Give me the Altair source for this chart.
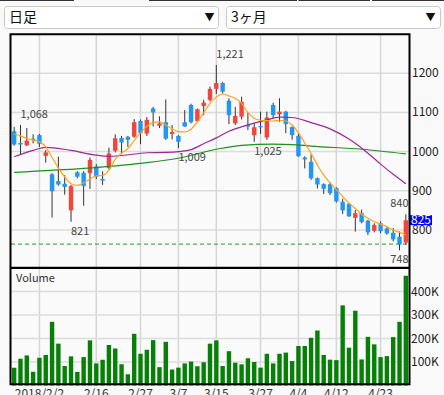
import altair as alt
import pandas as pd

# ---------------- data ----------------
dates = ["1/29", "1/30", "1/31", "2/1", "2/2", "2/5", "2/6", "2/7", "2/8", "2/9",
         "2/13", "2/14", "2/15", "2/16", "2/19", "2/20", "2/21", "2/22", "2/23", "2/26",
         "2/27", "2/28", "3/1", "3/2", "3/5", "3/6", "3/7", "3/8", "3/9", "3/12",
         "3/13", "3/14", "3/15", "3/16", "3/19", "3/20", "3/22", "3/23", "3/26", "3/27",
         "3/28", "3/29", "3/30", "4/2", "4/3", "4/4", "4/5", "4/6", "4/9", "4/10",
         "4/11", "4/12", "4/13", "4/16", "4/17", "4/18", "4/19", "4/20", "4/23", "4/24",
         "4/25", "4/26", "4/27"]

opens = [1052, 1022, 1016, 1033, 1042, 989, 942, 925, 918, 850,
         947, 946, 945, 962, 930, 958, 1002, 1035, 1038, 1038,
         1078, 1046, 1110, 1066, 1075, 1045, 1040, 1075, 1119, 1078,
         1116, 1132, 1160, 1175, 1130, 1072, 1089, 1068, 1042, 1065,
         1036, 1119, 1095, 1102, 1063, 1040, 985, 974, 932, 917,
         917, 907, 872, 867, 831, 843, 824, 798, 817, 804,
         793, 783, 768]
highs = [1063, 1068, 1060, 1044, 1045, 1004, 945, 987, 940, 915,
         950, 950, 985, 968, 950, 1010, 1044, 1040, 1040, 1083,
         1082, 1088, 1114, 1090, 1133, 1068, 1042, 1106, 1122, 1110,
         1132, 1166, 1221, 1178, 1136, 1114, 1140, 1099, 1072, 1102,
         1102, 1125, 1136, 1104, 1064, 1046, 988, 993, 934, 919,
         921, 909, 880, 869, 851, 852, 826, 817, 822, 808,
         805, 796, 840]
lows = [1015, 992, 1014, 1021, 1012, 972, 832, 913, 890, 821,
        932, 862, 905, 930, 915, 955, 998, 995, 1012, 1035,
        1019, 1040, 1064, 1060, 1030, 1031, 1009, 1063, 1072, 1075,
        1093, 1128, 1147, 1148, 1070, 1068, 1082, 1055, 1025, 1045,
        1030, 1085, 1076, 1047, 1030, 987, 957, 928, 906, 892,
        889, 870, 841, 833, 796, 817, 787, 794, 792, 788,
        771, 748, 763]
closes = [1018, 1018, 1028, 1030, 1020, 998, 899, 916, 910, 912,
          936, 912, 979, 936, 926, 995, 1034, 1023, 1030, 1075,
          1047, 1081, 1100, 1072, 1033, 1050, 1025, 1064, 1075, 1108,
          1125, 1160, 1175, 1153, 1093, 1091, 1127, 1064, 1062, 1062,
          1087, 1093, 1102, 1070, 1042, 988, 980, 932, 916, 905,
          894, 873, 850, 835, 843, 820, 794, 813, 797, 791,
          776, 763, 825]
volumes = [76000, 114000, 128000, 59000, 118000, 130000, 271000, 178000, 83000, 124000,
           58000, 121000, 192000, 94000, 110000, 172000, 157000, 90000, 48000, 220000,
           135000, 152000, 193000, 78000, 186000, 68000, 76000, 94000, 102000, 82000,
           99000, 178000, 192000, 83000, 146000, 97000, 90000, 116000, 100000, 76000,
           135000, 94000, 135000, 140000, 104000, 168000, 168000, 203000, 234000, 130000,
           110000, 108000, 341000, 161000, 318000, 111000, 207000, 175000, 121000, 125000,
           206000, 271000, 467000]

# short moving average (orange), read for every session
orange_ma = [1045, 1040, 1034, 1029, 1025, 1012, 985, 958, 935, 918,
             914, 920, 930, 938, 939, 952, 980, 996, 1008, 1028,
             1048, 1064, 1074, 1076, 1068, 1058, 1051, 1050, 1057, 1076,
             1099, 1123, 1139, 1147, 1142, 1136, 1123, 1100, 1085, 1080,
             1079, 1078, 1080, 1078, 1068, 1048, 1022, 995, 966, 940,
             920, 903, 886, 868, 855, 840, 830, 821, 815, 808,
             800, 794, 788]
# medium moving average (purple), read at sampled sessions
purple_idx = [0, 3, 5, 9, 13, 15, 17, 21, 24, 26, 28, 30, 32, 34, 37, 40, 42, 44, 47, 50, 53, 56, 58, 60, 62]
purple_val = [987, 1003, 1011, 1003, 991, 988, 990, 997, 998, 1000, 1005, 1020, 1035, 1052, 1068, 1081, 1088, 1087, 1074, 1058, 1032, 996, 968, 942, 918]
# long moving average (green), read at sampled sessions
green_idx = [0, 11, 20, 26, 32, 36, 41, 44, 47, 55, 62]
green_val = [947, 957, 970, 983, 1006, 1016, 1019, 1018, 1014, 1006, 994]

support_level = 764
price_ticks = [800, 900, 1000, 1100, 1200]
vol_ticks = [100000, 200000, 300000, 400000]
vol_tick_labels = ["100K", "200K", "300K", "400K"]
xlabel_dates = ["2/2", "2/16", "2/27", "3/7", "3/15", "3/27", "4/4", "4/12", "4/23"]
xlabel_text = ["2018/2/2", "2/16", "2/27", "3/7", "3/15", "3/27", "4/4", "4/12", "4/23"]

# high / low annotations: (session index, kind)
ann_left_above = [1, 32]
ann_left_below = [9, 26, 38]
ann_right_above = [62]
ann_right_below = [61]

FONT = "Noto Sans CJK JP"
RED = "#f3453b"
BLUE = "#2196f3"

# ---------------- tables ----------------
n = len(dates)
df = pd.DataFrame({"i": list(range(n)), "d": dates, "o": opens, "h": highs,
                   "l": lows, "c": closes, "v": volumes})
df["dir"] = ["up" if c >= o else "down" for o, c in zip(opens, closes)]

orange_df = pd.DataFrame({"i": list(range(n)), "d": dates, "val": orange_ma})
purple_df = pd.DataFrame({"i": purple_idx, "d": [dates[k] for k in purple_idx], "val": purple_val})
green_df = pd.DataFrame({"i": green_idx, "d": [dates[k] for k in green_idx], "val": green_val})


def fmt(v):
    return f"{v:,}"


def ann_df(idx, src):
    return pd.DataFrame({"d": [dates[k] for k in idx],
                         "p": [src[k] for k in idx],
                         "t": [fmt(src[k]) for k in idx]})


xs = alt.Scale(domain=dates, range=[11, 409], paddingInner=0.3, paddingOuter=0.15)
ps = alt.Scale(domain=[705.6, 1300], range=[267, 34], nice=False, zero=False)
vs = alt.Scale(domain=[0, 500000], range=[385.5, 268], nice=False, zero=False)
X = alt.X("d:O", scale=xs, axis=None)


def PY(field):
    return alt.Y(field, scale=ps, axis=None)


one = pd.DataFrame({"k": [0]})

# ---------------- background decorations ----------------
bg = alt.Chart(one).mark_rect(fill="#fafafa").encode(
    x=alt.value(11), x2=alt.value(409), y=alt.value(34), y2=alt.value(384))

# ---------------- price panel ----------------
hgrid_p = alt.Chart(pd.DataFrame({"p": price_ticks})).mark_rule(
    color="#dcdcdc", strokeWidth=1.5).encode(x=alt.value(11), x2=alt.value(409), y=PY("p:Q"))
vgrid = alt.Chart(pd.DataFrame({"d": xlabel_dates})).mark_rule(
    color="#d6d6d6", strokeWidth=1.5).encode(x=X, y=alt.value(34), y2=alt.value(384))
support = alt.Chart(pd.DataFrame({"p": [support_level]})).mark_rule(
    color="#4caf50", strokeWidth=1.2, strokeDash=[4, 3]).encode(
    x=alt.value(11), x2=alt.value(409), y=PY("p:Q"))

wicks = alt.Chart(df).mark_rule(color="#333333", strokeWidth=1).encode(
    x=X, y=PY("l:Q"), y2="h:Q")
bodies = alt.Chart(df).mark_bar().encode(
    x=X, y=PY("o:Q"), y2="c:Q",
    color=alt.Color("dir:N", scale=alt.Scale(domain=["up", "down"], range=[RED, BLUE]), legend=None))

green_line = alt.Chart(green_df).mark_line(color="#1f8f1f", strokeWidth=1.2, interpolate="monotone").encode(
    x=X, y=PY("val:Q"), order="i:Q")
purple_line = alt.Chart(purple_df).mark_line(color="#9a2a9a", strokeWidth=1.2, interpolate="monotone").encode(
    x=X, y=PY("val:Q"), order="i:Q")
orange_line = alt.Chart(orange_df).mark_line(color="#ffa31a", strokeWidth=1.2, interpolate="monotone").encode(
    x=X, y=PY("val:Q"), order="i:Q")

tstyle = dict(font=FONT, fontSize=11, color="#444444")
ann1 = alt.Chart(ann_df(ann_left_above, highs)).mark_text(align="left", baseline="alphabetic", dy=-7, **tstyle).encode(
    x=X, y=PY("p:Q"), text="t:N")
ann2 = alt.Chart(ann_df(ann_left_below, lows)).mark_text(align="left", baseline="alphabetic", dy=13, **tstyle).encode(
    x=X, y=PY("p:Q"), text="t:N")
ann3 = alt.Chart(ann_df(ann_right_above, highs)).mark_text(align="right", baseline="alphabetic", dy=-7, **tstyle).encode(
    x=alt.value(408.5), y=PY("p:Q"), text="t:N")
ann4 = alt.Chart(ann_df(ann_right_below, lows)).mark_text(align="right", baseline="alphabetic", dy=13, **tstyle).encode(
    x=alt.value(408.5), y=PY("p:Q"), text="t:N")

plabels = alt.Chart(pd.DataFrame({"p": price_ticks, "t": [str(p) for p in price_ticks]})).mark_text(
    align="left", baseline="middle", font=FONT, fontSize=12, color="#222222").encode(
    x=alt.value(412), y=PY("p:Q"), text="t:N")

last_df = pd.DataFrame({"p": [closes[-1]], "t": [str(closes[-1])]})
tag = alt.Chart(last_df).mark_point(
    shape="M-1,-0.4545L1,-0.4545L1,0.4545L-1,0.4545Z", size=484, filled=True,
    color="#0000ff", opacity=1).encode(x=alt.value(421), y=PY("p:Q"))
tag_text = alt.Chart(last_df).mark_text(
    align="center", baseline="middle", font=FONT, fontSize=12, color="white").encode(
    x=alt.value(421), y=PY("p:Q"), text="t:N")

xlabels = alt.Chart(pd.DataFrame({"d": xlabel_dates, "t": xlabel_text})).mark_text(
    align="center", baseline="top", font=FONT, fontSize=12, color="#333333").encode(
    x=X, y=alt.value(388.5), text="t:N")

price = alt.layer(hgrid_p, vgrid, support, wicks, bodies, green_line, purple_line, orange_line,
                  ann1, ann2, ann3, ann4, plabels, tag, tag_text, xlabels)

# ---------------- volume panel ----------------
def VY(field):
    return alt.Y(field, scale=vs, axis=None)


hgrid_v = alt.Chart(pd.DataFrame({"v": vol_ticks})).mark_rule(
    color="#dcdcdc", strokeWidth=1.5).encode(x=alt.value(11), x2=alt.value(409), y=VY("v:Q"))
vbars = alt.Chart(df).mark_bar(color="#078007").encode(x=X, y=VY("v:Q"))
vlabels = alt.Chart(pd.DataFrame({"v": vol_ticks, "t": vol_tick_labels})).mark_text(
    align="left", baseline="middle", font=FONT, fontSize=12, color="#222222").encode(
    x=alt.value(411), y=VY("v:Q"), text="t:N")
vtitle = alt.Chart(one).mark_text(text="Volume", align="left", baseline="middle",
                                  font=FONT, fontSize=11, color="#333333").encode(
    x=alt.value(16), y=alt.value(279))
volume = alt.layer(hgrid_v, vbars, vlabels, vtitle)

# ---------------- frame & header ----------------
frame = alt.Chart(one).mark_rect(filled=False, stroke="#000000", strokeWidth=2).encode(
    x=alt.value(10.5), x2=alt.value(409.5), y=alt.value(34.3), y2=alt.value(384.3))
sep = alt.Chart(one).mark_rule(color="#000000", strokeWidth=2.4).encode(
    x=alt.value(10.5), x2=alt.value(409.5), y=alt.value(267.9))


def box(x1, x2):
    return alt.Chart(one).mark_rect(fill="white", stroke="#c8c8c8", strokeWidth=1, cornerRadius=3).encode(
        x=alt.value(x1), x2=alt.value(x2), y=alt.value(6.5), y2=alt.value(28.5))


def htext(txt, x, size, align="left"):
    return alt.Chart(one).mark_text(text=txt, align=align, baseline="middle", font=FONT,
                                    fontSize=size, color="#111111").encode(
        x=alt.value(x), y=alt.value(17.5))


def topline(x1, x2):
    return alt.Chart(one).mark_rule(color="#333333", strokeWidth=1).encode(
        x=alt.value(x1), x2=alt.value(x2), y=alt.value(0.5))


header = alt.layer(
    topline(0, 74), topline(149, 297), topline(298.5, 370), topline(372, 444),
    box(4.5, 218.5), box(226.5, 440.5),
    htext("日足", 9, 14), htext("▼", 209.5, 10, "center"),
    htext("3ヶ月", 231, 14), htext("▼", 430.5, 10, "center"))

chart = alt.layer(bg, price, volume, frame, sep, header).resolve_scale(
    y="independent"
).properties(
    width=444, height=395, autosize=alt.AutoSizeParams(type="none"), padding=0
).configure(background="#f9f9f9").configure_view(stroke=None)

chart.save("out.html", embed_options={"renderer": "svg", "actions": False})
